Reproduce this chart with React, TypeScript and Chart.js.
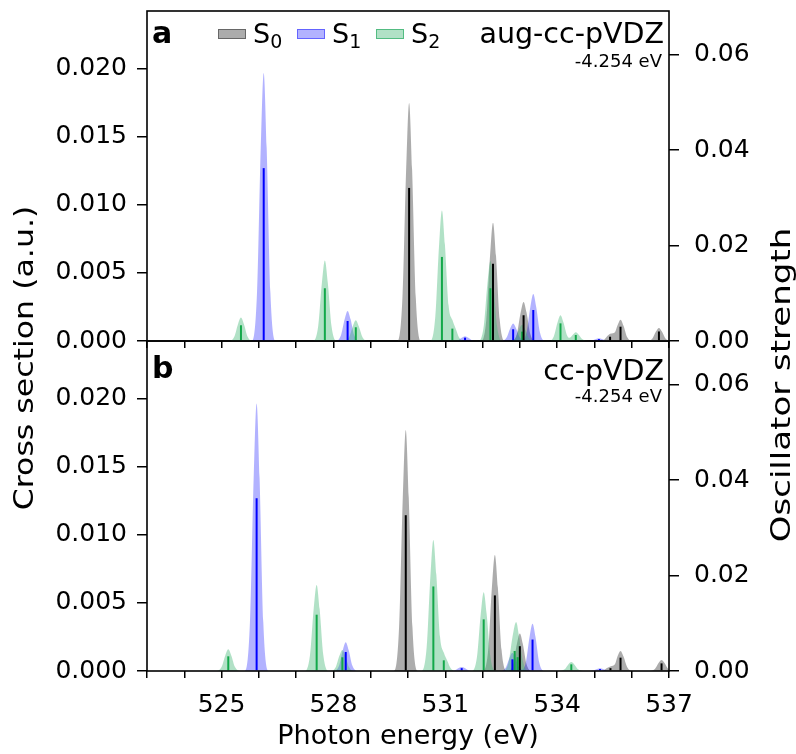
import React, { useEffect, useRef } from 'react';
import { Chart, registerables } from 'chart.js';

Chart.register(...registerables);

// ---------------- data ----------------
const xTickLabels = [525, 528, 531, 534, 537];
const crossTicksStep = 0.005;
const oscTicksStep = 0.02;
const X_MIN = 523;
const X_MAX = 537;
const CROSS_MAX = 0.02426;
const OSC_MAX = 0.0692;

const stateLabels = [['S', '0'], ['S', '1'], ['S', '2']];
const panelLetters = ['a', 'b'];
const basisNames = ['aug-cc-pVDZ', 'cc-pVDZ'];
const energyShifts = ['-4.254 eV', '-4.254 eV'];

// panel a : broadened cross sections [photon energy, cross section]
const aS0Curve = [
  [523, 0],
  [529.71, 0], [529.85, 0.00315], [529.95, 0.0126], [530.03, 0.0175], [530.11, 0.0126], [530.21, 0.00315], [530.35, 0],
  [531.96, 0], [532.1, 0.00157], [532.2, 0.00626], [532.28, 0.0087], [532.36, 0.00626], [532.46, 0.00157], [532.6, 0],
  [532.78, 0], [532.92, 0.00052], [533.02, 0.00207], [533.1, 0.00287], [533.18, 0.00207], [533.28, 0.00052], [533.42, 0],
  [535.1, 0], [535.26, 0.0001], [535.36, 0.0004], [535.44, 0.00055], [535.55, 0.00065], [535.62, 0.00115], [535.7, 0.00157], [535.78, 0.00113], [535.88, 0.00028], [536.02, 0],
  [536.41, 0], [536.55, 0.00017], [536.65, 0.00069], [536.73, 0.00096], [536.81, 0.00069], [536.91, 0.00017], [537.05, 0],
];
const aS1Curve = [
  [523, 0],
  [525.81, 0], [525.95, 0.00355], [526.05, 0.01418], [526.13, 0.0197], [526.21, 0.01418], [526.31, 0.00355], [526.45, 0],
  [528.06, 0], [528.2, 0.0004], [528.3, 0.00159], [528.38, 0.00221], [528.46, 0.00159], [528.56, 0.0004], [528.7, 0],
  [531.21, 0], [531.35, 0.00006], [531.45, 0.00025], [531.53, 0.00035], [531.61, 0.00025], [531.71, 0.00006], [531.85, 0],
  [532.5, 0], [532.64, 0.00023], [532.74, 0.00092], [532.82, 0.00128], [532.9, 0.00092], [533.0, 0.00025], [533.09, 0.0001], [533.18, 0.00064], [533.28, 0.00249], [533.36, 0.00346], [533.44, 0.00249], [533.54, 0.00062], [533.68, 0],
  [534.8, 0], [534.94, 0.00004], [535.04, 0.00014], [535.12, 0.0002], [535.2, 0.00014], [535.3, 0.00004], [535.44, 0],
  [537, 0],
];
const aS2Curve = [
  [523, 0],
  [525.2, 0], [525.34, 0.00031], [525.44, 0.00124], [525.52, 0.00172], [525.6, 0.00124], [525.7, 0.00031], [525.84, 0],
  [527.45, 0], [527.59, 0.00106], [527.69, 0.00426], [527.77, 0.00591], [527.85, 0.00426], [527.95, 0.00106], [528.09, 0],
  [528.28, 0], [528.42, 0.00027], [528.52, 0.00109], [528.6, 0.00152], [528.68, 0.00109], [528.78, 0.00027], [528.92, 0],
  [530.59, 0], [530.73, 0.00173], [530.83, 0.0069], [530.91, 0.0096], [530.99, 0.0071], [531.09, 0.0026], [531.19, 0.00156], [531.29, 0.00083], [531.37, 0.00026], [531.5, 0],
  [531.89, 0], [532.03, 0.00106], [532.13, 0.00423], [532.21, 0.00588], [532.29, 0.00423], [532.39, 0.00106], [532.53, 0],
  [532.74, 0], [532.88, 0.00022], [532.98, 0.00086], [533.06, 0.0012], [533.14, 0.00086], [533.24, 0.00022], [533.38, 0],
  [533.77, 0], [533.91, 0.00034], [534.01, 0.00136], [534.09, 0.00189], [534.17, 0.00136], [534.27, 0.00039], [534.33, 0.00023], [534.42, 0.00046], [534.5, 0.00064], [534.58, 0.00046], [534.68, 0.00012], [534.82, 0],
  [537, 0],
];
// panel a : stick spectra [photon energy, oscillator strength]
const aS0Sticks = [[530.03, 0.0321], [532.28, 0.0162], [533.1, 0.0054], [535.42, 0.0009], [535.7, 0.003], [536.73, 0.002]];
const aS1Sticks = [[526.13, 0.03625], [528.38, 0.0042], [531.53, 0.0007], [532.82, 0.00246], [533.36, 0.0065], [535.12, 0.0004]];
const aS2Sticks = [[525.52, 0.0033], [527.77, 0.01106], [528.6, 0.00288], [530.91, 0.01763], [531.19, 0.0026], [532.21, 0.01106], [533.06, 0.00197], [534.09, 0.0037], [534.5, 0.00126]];

// panel b
const bS0Curve = [
  [523, 0],
  [529.62, 0], [529.76, 0.00319], [529.86, 0.01275], [529.94, 0.01771], [530.02, 0.01275], [530.12, 0.00319], [530.26, 0],
  [532.01, 0], [532.15, 0.00154], [532.25, 0.00614], [532.33, 0.00853], [532.41, 0.00614], [532.51, 0.00154], [532.65, 0],
  [532.68, 0], [532.82, 0.0005], [532.92, 0.00199], [533.0, 0.00276], [533.08, 0.00199], [533.18, 0.0005], [533.32, 0],
  [535.11, 0], [535.25, 0.00006], [535.35, 0.00024], [535.44, 0.00035], [535.55, 0.0005], [535.62, 0.00108], [535.7, 0.00147], [535.78, 0.00106], [535.88, 0.00027], [536.02, 0],
  [536.48, 0], [536.62, 0.00014], [536.72, 0.00058], [536.8, 0.0008], [536.88, 0.00058], [536.98, 0.00014], [537.12, 0],
];
const bS1Curve = [
  [523, 0],
  [525.62, 0], [525.76, 0.00354], [525.86, 0.01416], [525.94, 0.01966], [526.02, 0.01416], [526.12, 0.00354], [526.26, 0],
  [528.01, 0], [528.15, 0.00038], [528.25, 0.00153], [528.33, 0.00212], [528.41, 0.00153], [528.51, 0.00038], [528.65, 0],
  [531.12, 0], [531.26, 0.00005], [531.36, 0.00022], [531.44, 0.0003], [531.52, 0.00022], [531.62, 0.00005], [531.76, 0],
  [532.48, 0], [532.62, 0.00024], [532.72, 0.00096], [532.8, 0.00134], [532.88, 0.00096], [532.98, 0.00026], [533.07, 0.0001], [533.16, 0.00064], [533.26, 0.0025], [533.34, 0.00347], [533.42, 0.0025], [533.52, 0.00062], [533.66, 0],
  [534.83, 0], [534.97, 0.00004], [535.07, 0.00014], [535.15, 0.0002], [535.23, 0.00014], [535.33, 0.00004], [535.47, 0],
  [537, 0],
];
const bS2Curve = [
  [523, 0],
  [524.86, 0], [525.0, 0.00029], [525.1, 0.00114], [525.18, 0.00159], [525.26, 0.00114], [525.36, 0.00029], [525.5, 0],
  [527.23, 0], [527.37, 0.00114], [527.47, 0.00456], [527.55, 0.00633], [527.63, 0.00456], [527.73, 0.00114], [527.87, 0],
  [527.92, 0], [528.06, 0.00028], [528.16, 0.00112], [528.24, 0.00155], [528.32, 0.00112], [528.42, 0.00028], [528.56, 0],
  [530.36, 0], [530.5, 0.00174], [530.6, 0.00693], [530.68, 0.00963], [530.76, 0.00708], [530.86, 0.0025], [530.96, 0.00136], [531.06, 0.00071], [531.14, 0.00022], [531.27, 0],
  [531.71, 0], [531.85, 0.00104], [531.95, 0.00417], [532.03, 0.00579], [532.11, 0.00417], [532.21, 0.00104], [532.35, 0],
  [532.56, 0], [532.7, 0.00068], [532.8, 0.00247], [532.9, 0.0036], [532.98, 0.00253], [533.08, 0.00075], [533.22, 0],
  [534.06, 0], [534.2, 0.00012], [534.3, 0.00048], [534.38, 0.00066], [534.46, 0.00048], [534.56, 0.00012], [534.7, 0],
  [537, 0],
];
const bS0Sticks = [[529.94, 0.03267], [532.33, 0.01585], [533.0, 0.0052], [535.43, 0.0006], [535.7, 0.0028], [536.8, 0.0016]];
const bS1Sticks = [[525.94, 0.03623], [528.33, 0.00398], [531.44, 0.0006], [532.8, 0.00245], [533.34, 0.0066], [535.15, 0.0004]];
const bS2Sticks = [[525.18, 0.00308], [527.55, 0.01181], [528.24, 0.00287], [530.68, 0.01773], [530.96, 0.00224], [532.03, 0.01083], [532.86, 0.0042], [532.94, 0.0029], [534.38, 0.0014]];

// ---------------- styles ----------------
const FONT = "'DejaVu Sans', sans-serif";
const W = 796;
const H = 754;
const PLOT_LEFT = 147;
const PLOT_RIGHT = 669;
const fills = ['rgba(128,128,128,0.65)', 'rgba(0,0,255,0.3)', 'rgba(60,179,113,0.4)'];
const edges = ['rgba(95,95,95,0.9)', 'rgba(80,80,255,0.8)', 'rgba(60,179,113,0.8)'];
const stickColors = ['#000000', '#0000ff', '#13a84a'];

type Pt = number[];

function fillDs(curve: Pt[], color: string, order: number) {
  return {
    type: 'line' as const,
    data: curve.map(([x, y]) => ({ x, y })),
    xAxisID: 'x',
    yAxisID: 'y',
    fill: 'origin',
    backgroundColor: color,
    borderColor: 'rgba(0,0,0,0)',
    borderWidth: 0,
    pointRadius: 0,
    pointHoverRadius: 0,
    cubicInterpolationMode: 'monotone' as const,
    order,
  };
}

function stickDs(sticks: Pt[], color: string, order: number) {
  return {
    type: 'bar' as const,
    data: sticks.map(([x, y]) => ({ x, y })),
    xAxisID: 'x',
    yAxisID: 'y2',
    backgroundColor: color,
    borderWidth: 0,
    barThickness: 2,
    grouped: false,
    inflateAmount: 0,
    order,
  };
}

function drawRot(ctx: CanvasRenderingContext2D, text: string, x: number, y: number, stretch: number) {
  ctx.save();
  ctx.translate(x, y);
  ctx.rotate(-Math.PI / 2);
  ctx.scale(stretch, 1);
  ctx.textAlign = 'center';
  ctx.textBaseline = 'alphabetic';
  ctx.fillText(text, 0, 0);
  ctx.restore();
}

function makeConfig(idx: number) {
  const isBottom = idx === 1;
  const curves = isBottom ? [bS0Curve, bS1Curve, bS2Curve] : [aS0Curve, aS1Curve, aS2Curve];
  const sticks = isBottom ? [bS0Sticks, bS1Sticks, bS2Sticks] : [aS0Sticks, aS1Sticks, aS2Sticks];

  const datasets: any[] = [
    stickDs(sticks[0], stickColors[0], 0),
    stickDs(sticks[1], stickColors[1], 1),
    stickDs(sticks[2], stickColors[2], 2),
    fillDs(curves[2], fills[2], 3),
    fillDs(curves[1], fills[1], 4),
    fillDs(curves[0], fills[0], 5),
  ];

  const tickGrid = (len: number) => ({
    display: true,
    drawOnChartArea: false,
    drawTicks: true,
    tickLength: len,
    tickWidth: 1.5,
    tickColor: '#000',
    color: '#000',
    lineWidth: 1.5,
  });

  const annotPlugin = {
    id: 'annot' + idx,
    afterDatasetsDraw(chart: any) {
      const { ctx, chartArea: a } = chart;
      ctx.save();
      // frame
      ctx.strokeStyle = '#000';
      ctx.lineWidth = 1.6;
      ctx.strokeRect(a.left, a.top, a.right - a.left, a.bottom - a.top);
      ctx.fillStyle = '#000';
      ctx.textBaseline = 'alphabetic';
      // panel letter
      ctx.font = `bold 30px ${FONT}`;
      ctx.textAlign = 'left';
      ctx.fillText(panelLetters[idx], 152, isBottom ? 378 : 43);
      // basis + shift
      ctx.textAlign = 'right';
      ctx.font = `28.5px ${FONT}`;
      ctx.fillText(basisNames[idx], 664, isBottom ? 380 : 43);
      ctx.font = `18px ${FONT}`;
      ctx.fillText(energyShifts[idx], 662, isBottom ? 402 : 67);
      if (!isBottom) {
        // legend
        const xs = [218, 297, 376];
        for (let i = 0; i < 3; i++) {
          const x = xs[i];
          ctx.fillStyle = '#fff';
          ctx.fillRect(x, 29, 28, 10);
          ctx.fillStyle = fills[i];
          ctx.fillRect(x, 29, 28, 10);
          ctx.strokeStyle = edges[i];
          ctx.lineWidth = 1;
          ctx.strokeRect(x + 0.5, 29.5, 27, 9);
          ctx.fillStyle = '#000';
          ctx.textAlign = 'left';
          ctx.font = `27px ${FONT}`;
          ctx.fillText(stateLabels[i][0], x + 35, 43);
          const w = ctx.measureText(stateLabels[i][0]).width;
          ctx.font = `19px ${FONT}`;
          ctx.fillText(stateLabels[i][1], x + 35 + w, 48);
        }
      } else {
        // shared axis titles
        ctx.font = `27px ${FONT}`;
        ctx.textAlign = 'center';
        ctx.fillText('Photon energy (eV)', (PLOT_LEFT + PLOT_RIGHT) / 2, 744);
        drawRot(ctx, 'Cross section (a.u.)', 33, 358, 1.17);
        drawRot(ctx, 'Oscillator strength', 790, 385, 1.26);
      }
      ctx.restore();
    },
  };

  return {
    type: 'line' as const,
    data: { datasets },
    plugins: [annotPlugin],
    options: {
      responsive: false,
      animation: false as const,
      devicePixelRatio: 1,
      events: [],
      layout: {
        padding: isBottom
          ? { top: 341, bottom: 0, left: 0, right: 0 }
          : { top: 11, bottom: H - 360, left: 0, right: 0 },
      },
      plugins: { legend: { display: false }, tooltip: { enabled: false }, title: { display: false } },
      scales: {
        x: {
          type: 'linear' as const,
          position: 'bottom' as const,
          min: X_MIN,
          max: X_MAX,
          offset: false,
          grid: { ...tickGrid(7), offset: false },
          border: { display: false },
          ticks: {
            stepSize: 1,
            autoSkip: false,
            maxRotation: 0,
            minRotation: 0,
            includeBounds: false,
            padding: 12,
            color: '#000',
            font: { family: FONT, size: 25 },
            callback: (v: any) => (isBottom && xTickLabels.includes(Number(v)) ? String(v) : ''),
          },
          afterFit: (s: any) => {
            s.height = isBottom ? H - 671 : 19;
            s.paddingLeft = 0;
            s.paddingRight = 0;
          },
        },
        y: {
          type: 'linear' as const,
          position: 'left' as const,
          min: 0,
          max: CROSS_MAX,
          grid: tickGrid(10),
          border: { display: false },
          ticks: {
            stepSize: crossTicksStep,
            includeBounds: false,
            padding: 10,
            color: '#000',
            font: { family: FONT, size: 25 },
            callback: (v: any) => Number(v).toFixed(3),
          },
          afterFit: (s: any) => {
            s.width = PLOT_LEFT;
            s.paddingTop = 0;
            s.paddingBottom = 0;
          },
        },
        y2: {
          type: 'linear' as const,
          position: 'right' as const,
          min: 0,
          max: OSC_MAX,
          grid: tickGrid(10),
          border: { display: false },
          ticks: {
            stepSize: oscTicksStep,
            includeBounds: false,
            padding: 15,
            color: '#000',
            font: { family: FONT, size: 25 },
            callback: (v: any) => Number(v).toFixed(2),
          },
          afterFit: (s: any) => {
            s.width = W - PLOT_RIGHT;
            s.paddingTop = 0;
            s.paddingBottom = 0;
          },
        },
      },
    },
  };
}

export default function App() {
  const topRef = useRef<HTMLCanvasElement>(null);
  const botRef = useRef<HTMLCanvasElement>(null);

  useEffect(() => {
    const c2 = new Chart(botRef.current as HTMLCanvasElement, makeConfig(1) as any);
    const c1 = new Chart(topRef.current as HTMLCanvasElement, makeConfig(0) as any);
    return () => {
      c1.destroy();
      c2.destroy();
    };
  }, []);

  const cs: React.CSSProperties = { position: 'absolute', left: 0, top: 0, width: W, height: H };
  return (
    <div style={{ position: 'absolute', left: 0, top: 0, width: W, height: H, background: '#fff' }}>
      <canvas ref={botRef} width={W} height={H} style={cs} />
      <canvas ref={topRef} width={W} height={H} style={cs} />
    </div>
  );
}
